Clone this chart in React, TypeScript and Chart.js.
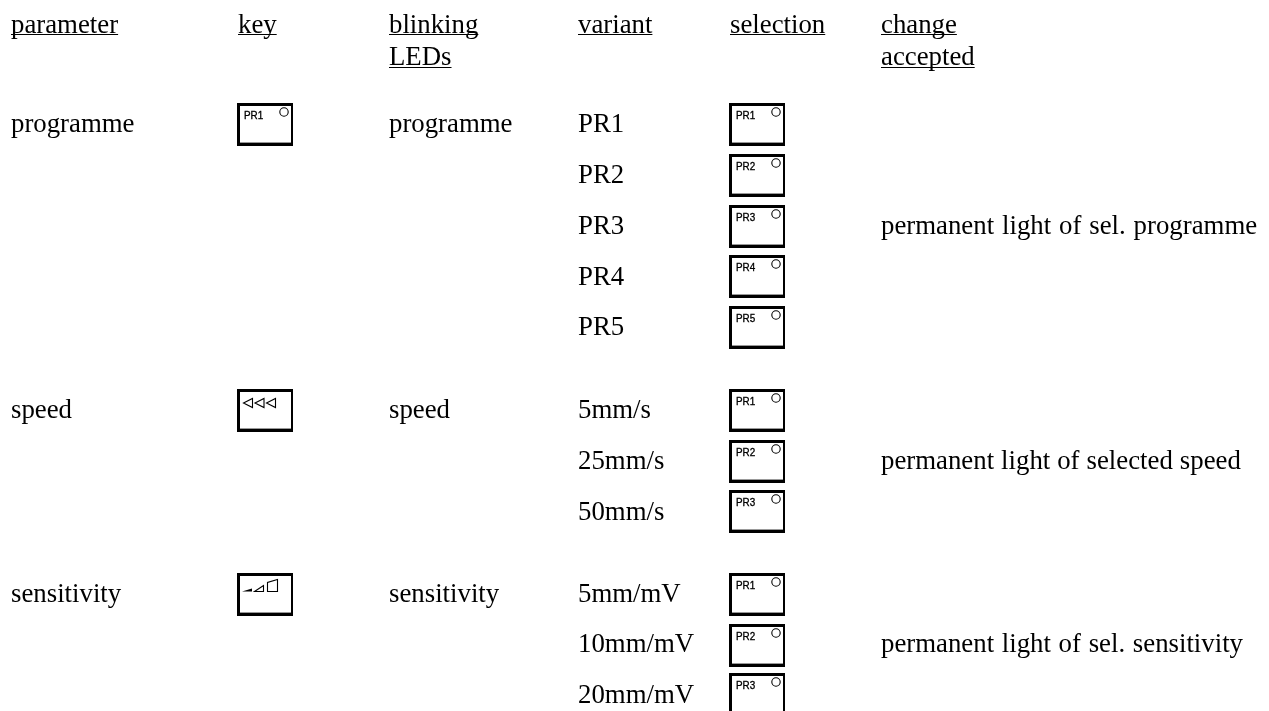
import React, { useEffect, useRef } from "react";
import { Chart, registerables } from "chart.js";

Chart.register(...registerables);

const WIDTH = 1269;
const HEIGHT = 711;

// Column anchors on the x scale
const COL_PARAMETER = 11;
const COL_KEY = 265;
const COL_BLINK = 389;
const COL_VARIANT = 578;
const COL_SELECTION = 757;
const COL_ACCEPT = 881;

// Table content
const headers = [
  { text: "parameter", x: COL_PARAMETER, y: 33, gap: 1 },
  { text: "key", x: 238, y: 33, gap: 1 },
  { text: "blinking", x: COL_BLINK, y: 33, gap: 1 },
  { text: "LEDs", x: COL_BLINK, y: 65, gap: 2 },
  { text: "variant", x: COL_VARIANT, y: 33, gap: 1 },
  { text: "selection", x: 730, y: 33, gap: 1 },
  { text: "change", x: COL_ACCEPT, y: 33, gap: 1 },
  { text: "accepted", x: COL_ACCEPT, y: 65, gap: 2 },
];
const parameters = ["programme", "speed", "sensitivity"];
const parameterRows = [132, 418, 602];
const keyRows = [124.5, 410.5, 594.5];
const keyIcons = ["label", "triangles", "wedges"];
const variants = ["PR1", "PR2", "PR3", "PR4", "PR5", "5mm/s", "25mm/s", "50mm/s", "5mm/mV", "10mm/mV", "20mm/mV"];
const variantRows = [132, 183, 234, 285, 335, 418, 469, 520, 602, 652, 703];
const selectionLabels = ["PR1", "PR2", "PR3", "PR4", "PR5", "PR1", "PR2", "PR3", "PR1", "PR2", "PR3"];
const selectionRows = [124.5, 175.5, 226.5, 276.5, 327.5, 410.5, 461.5, 511.5, 594.5, 645.5, 694.5];
const acceptTexts = [
  "permanent light of sel. programme",
  "permanent light of selected speed",
  "permanent light of sel. sensitivity",
];
const acceptRows = [234, 469, 652];
const acceptSpacing = ["1.2px", "0.3px", "1px"];

const SERIF = '26.8px "Liberation Serif", serif';
const SANS = '11.5px "Liberation Sans", sans-serif';
const BOX_W = 56;
const BOX_H = 43;

function makeKey(icon: string): HTMLCanvasElement {
  const c = document.createElement("canvas");
  c.width = BOX_W;
  c.height = BOX_H;
  const g = c.getContext("2d") as CanvasRenderingContext2D;
  g.fillStyle = "#000";
  g.fillRect(0, 0, BOX_W, BOX_H);
  g.fillStyle = "#fff";
  g.fillRect(3, 3, BOX_W - 5, BOX_H - 6);
  g.fillStyle = "#999";
  g.fillRect(3, BOX_H - 4, BOX_W - 5, 1);
  g.strokeStyle = "#000";
  g.lineWidth = 1.1;
  if (icon === "label") {
    g.beginPath();
    g.arc(47, 9, 4.2, 0, Math.PI * 2);
    g.stroke();
  } else if (icon === "triangles") {
    for (let i = 0; i < 3; i++) {
      const x0 = 6.5 + i * 11.5;
      g.beginPath();
      g.moveTo(x0, 14);
      g.lineTo(x0 + 9, 9.5);
      g.lineTo(x0 + 9, 18.5);
      g.closePath();
      g.stroke();
    }
  } else {
    g.fillStyle = "#000";
    g.beginPath();
    g.moveTo(5, 18.5);
    g.lineTo(15, 15.5);
    g.lineTo(15, 18.5);
    g.closePath();
    g.fill();
    g.beginPath();
    g.moveTo(17.5, 18.5);
    g.lineTo(26.5, 12.5);
    g.lineTo(26.5, 18.5);
    g.closePath();
    g.stroke();
    g.beginPath();
    g.moveTo(30.5, 18.5);
    g.lineTo(30.5, 9.5);
    g.lineTo(40.5, 6.5);
    g.lineTo(40.5, 18.5);
    g.closePath();
    g.stroke();
  }
  return c;
}

type TextPoint = { x: number; y: number; text: string; font: string; gap?: number; spacing?: string };

const textPoints: TextPoint[] = [
  ...headers.map((h) => ({ ...h, font: SERIF })),
  ...parameters.map((t, i) => ({ x: COL_PARAMETER, y: parameterRows[i], text: t, font: SERIF })),
  ...parameters.map((t, i) => ({ x: COL_BLINK, y: parameterRows[i], text: t, font: SERIF })),
  ...variants.map((t, i) => ({ x: COL_VARIANT, y: variantRows[i], text: t, font: SERIF })),
  ...acceptTexts.map((t, i) => ({ x: COL_ACCEPT, y: acceptRows[i], text: t, font: SERIF, spacing: acceptSpacing[i] })),
  ...selectionLabels.map((t, i) => ({ x: COL_SELECTION - 21, y: selectionRows[i] - 5.5, text: t, font: SANS })),
  { x: COL_KEY - 21, y: keyRows[0] - 5.5, text: "PR1", font: SANS },
];

const tableText = {
  id: "tableText",
  afterDatasetsDraw(chart: any) {
    const { ctx, scales } = chart;
    ctx.save();
    ctx.fillStyle = "#000";
    ctx.strokeStyle = "#000";
    ctx.textAlign = "left";
    ctx.textBaseline = "alphabetic";
    for (const p of textPoints) {
      const px = scales.x.getPixelForValue(p.x);
      const py = scales.y.getPixelForValue(p.y);
      ctx.font = p.font;
      ctx.wordSpacing = p.spacing ?? "0px";
      if (p.font === SANS) {
        // The key captions are condensed and slightly heavy in the source
        ctx.save();
        ctx.translate(px, py);
        ctx.scale(0.86, 1);
        ctx.lineWidth = 0.35;
        ctx.fillText(p.text, 0, 0);
        ctx.strokeText(p.text, 0, 0);
        ctx.restore();
      } else {
        ctx.fillText(p.text, px, py);
      }
      if (p.gap !== undefined) {
        const w = ctx.measureText(p.text).width;
        ctx.fillRect(px, py + p.gap, w, 1);
      }
    }
    ctx.restore();
  },
};

export default function App() {
  const ref = useRef<HTMLCanvasElement>(null);
  useEffect(() => {
    if (!ref.current) return;
    const plain = makeKey("label");
    const keyImages = keyIcons.map(makeKey);
    const chart = new Chart(ref.current, {
      type: "scatter",
      data: {
        datasets: [
          {
            label: "key",
            data: keyRows.map((y) => ({ x: COL_KEY, y })),
            pointStyle: keyImages as any,
            pointRadius: 20,
            clip: false,
          },
          {
            label: "selection",
            data: selectionRows.map((y) => ({ x: COL_SELECTION, y })),
            pointStyle: plain as any,
            pointRadius: 20,
            clip: false,
          },
        ],
      },
      options: {
        responsive: false,
        animation: false,
        events: [],
        layout: { padding: 0, autoPadding: false },
        scales: {
          x: { type: "linear", min: 0, max: WIDTH, display: false },
          y: { type: "linear", min: 0, max: HEIGHT, reverse: true, display: false },
        },
        plugins: { legend: { display: false }, tooltip: { enabled: false }, title: { display: false } },
      },
      plugins: [tableText],
    });
    return () => chart.destroy();
  }, []);
  return (
    <canvas
      ref={ref}
      width={WIDTH}
      height={HEIGHT}
      style={{ position: "absolute", left: 0, top: 0, width: WIDTH, height: HEIGHT, display: "block", background: "#fff" }}
    />
  );
}
